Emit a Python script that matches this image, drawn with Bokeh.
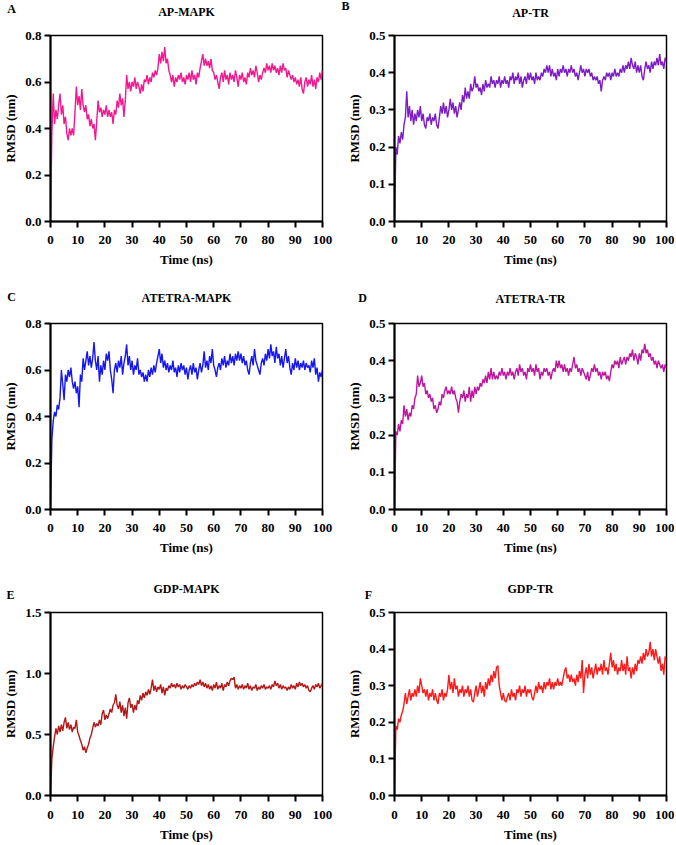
from bokeh.plotting import figure
from bokeh.layouts import column, row
from bokeh.models import Range1d, FixedTicker, NumeralTickFormatter, Label
from bokeh.embed import file_html
from bokeh.resources import INLINE

ap_mapk = [
    0.00, 0.38, 0.55, 0.42, 0.48, 0.44, 0.50, 0.55, 0.46, 0.50,
    0.42, 0.45, 0.38, 0.35, 0.40, 0.37, 0.40, 0.37, 0.47, 0.58,
    0.50, 0.54, 0.48, 0.57, 0.50, 0.47, 0.50, 0.44, 0.46, 0.41,
    0.44, 0.40, 0.42, 0.35, 0.43, 0.52, 0.47, 0.49, 0.45, 0.48,
    0.46, 0.50, 0.45, 0.48, 0.45, 0.47, 0.42, 0.48, 0.46, 0.52,
    0.49, 0.55, 0.50, 0.53, 0.45, 0.52, 0.63, 0.57, 0.60, 0.56,
    0.60, 0.58, 0.62, 0.57, 0.60, 0.58, 0.55, 0.59, 0.56, 0.61,
    0.60, 0.63, 0.59, 0.62, 0.60, 0.64, 0.62, 0.65, 0.63, 0.66,
    0.72, 0.68, 0.73, 0.69, 0.75, 0.68, 0.70, 0.65, 0.63, 0.60,
    0.63, 0.58, 0.62, 0.60, 0.63, 0.61, 0.64, 0.60, 0.62, 0.59,
    0.63, 0.61, 0.64, 0.60, 0.65, 0.61, 0.63, 0.59, 0.64, 0.62,
    0.66, 0.69, 0.72, 0.67, 0.70, 0.67, 0.69, 0.66, 0.70, 0.65,
    0.64, 0.61, 0.63, 0.60, 0.57, 0.62, 0.64, 0.60, 0.65, 0.61,
    0.63, 0.59, 0.64, 0.61, 0.63, 0.60, 0.65, 0.62, 0.58, 0.63,
    0.61, 0.64, 0.60, 0.62, 0.59, 0.64, 0.62, 0.66, 0.63, 0.65,
    0.62, 0.67, 0.64, 0.60, 0.63, 0.61, 0.64, 0.66, 0.64, 0.68,
    0.65, 0.67, 0.64, 0.68, 0.65, 0.67, 0.64, 0.66, 0.63, 0.67,
    0.64, 0.68, 0.65, 0.66, 0.62, 0.65, 0.63, 0.61, 0.63, 0.60,
    0.62, 0.59, 0.61, 0.58, 0.62, 0.57, 0.55, 0.60, 0.62, 0.58,
    0.61, 0.59, 0.63, 0.58, 0.61, 0.57, 0.62, 0.60, 0.64, 0.61,
    0.65,
]

ap_tr = [
    0.00, 0.20, 0.18, 0.23, 0.21, 0.24, 0.22, 0.26, 0.28, 0.35,
    0.28, 0.31, 0.27, 0.30, 0.26, 0.29, 0.27, 0.30, 0.28, 0.31,
    0.27, 0.29, 0.26, 0.25, 0.28, 0.27, 0.29, 0.26, 0.28, 0.27,
    0.29, 0.26, 0.25, 0.28, 0.31, 0.29, 0.32, 0.29, 0.31, 0.28,
    0.30, 0.33, 0.30, 0.32, 0.29, 0.31, 0.28, 0.30, 0.32, 0.30,
    0.34, 0.32, 0.36, 0.33, 0.35, 0.33, 0.37, 0.35, 0.36, 0.39,
    0.36, 0.37, 0.35, 0.36, 0.34, 0.37, 0.35, 0.38, 0.36, 0.37,
    0.36, 0.39, 0.37, 0.38, 0.36, 0.38, 0.37, 0.39, 0.36, 0.38,
    0.37, 0.39, 0.37, 0.38, 0.36, 0.39, 0.38, 0.40, 0.37, 0.39,
    0.38, 0.40, 0.37, 0.39, 0.36, 0.38, 0.39, 0.37, 0.40, 0.38,
    0.40, 0.38, 0.39, 0.37, 0.40, 0.38, 0.39, 0.38, 0.40, 0.39,
    0.41, 0.40, 0.42, 0.40, 0.42, 0.39, 0.41, 0.39, 0.40, 0.38,
    0.41, 0.39, 0.41, 0.40, 0.42, 0.40, 0.41, 0.39, 0.41, 0.40,
    0.42, 0.40, 0.41, 0.39, 0.40, 0.38, 0.40, 0.42, 0.40, 0.41,
    0.39, 0.41, 0.40, 0.41, 0.39, 0.40, 0.38, 0.39, 0.38, 0.39,
    0.37, 0.38, 0.35, 0.38, 0.39, 0.38, 0.40, 0.39, 0.40, 0.38,
    0.40, 0.39, 0.41, 0.39, 0.40, 0.39, 0.41, 0.40, 0.42, 0.40,
    0.42, 0.41, 0.43, 0.41, 0.44, 0.42, 0.41, 0.43, 0.40, 0.42,
    0.40, 0.42, 0.39, 0.38, 0.41, 0.43, 0.41, 0.42, 0.40, 0.43,
    0.41, 0.43, 0.42, 0.44, 0.42, 0.45, 0.42, 0.43, 0.41, 0.44,
    0.43,
]

atetra_mapk = [
    0.00, 0.30, 0.38, 0.42, 0.40, 0.45, 0.43, 0.48, 0.60, 0.54,
    0.47, 0.58, 0.55, 0.60, 0.57, 0.61, 0.55, 0.52, 0.55, 0.50,
    0.53, 0.44, 0.58, 0.55, 0.65, 0.60, 0.64, 0.68, 0.62, 0.66,
    0.61, 0.65, 0.72, 0.64, 0.60, 0.66, 0.55, 0.62, 0.58, 0.64,
    0.60, 0.67, 0.64, 0.68, 0.60, 0.56, 0.50, 0.60, 0.63, 0.59,
    0.64, 0.61, 0.66, 0.58, 0.63, 0.66, 0.71, 0.62, 0.66, 0.60,
    0.64, 0.58, 0.62, 0.60, 0.65, 0.58, 0.60, 0.57, 0.59, 0.55,
    0.58, 0.55, 0.60, 0.57, 0.61, 0.58, 0.62, 0.59, 0.63, 0.66,
    0.69, 0.63, 0.67, 0.61, 0.64, 0.60, 0.63, 0.59, 0.62, 0.60,
    0.64, 0.59, 0.61, 0.57, 0.62, 0.59, 0.63, 0.60, 0.62, 0.58,
    0.61, 0.56, 0.60, 0.62, 0.58, 0.63, 0.59, 0.61, 0.56, 0.60,
    0.63, 0.59, 0.62, 0.68, 0.61, 0.64, 0.60, 0.66, 0.63, 0.69,
    0.62, 0.60, 0.57, 0.61, 0.63, 0.60, 0.65, 0.62, 0.66, 0.61,
    0.64, 0.62, 0.67, 0.63, 0.66, 0.62, 0.67, 0.64, 0.68, 0.64,
    0.67, 0.63, 0.66, 0.62, 0.64, 0.60, 0.58, 0.63, 0.66, 0.62,
    0.69, 0.64, 0.62, 0.60, 0.58, 0.63, 0.65, 0.62, 0.67, 0.64,
    0.69, 0.65, 0.71, 0.66, 0.68, 0.63, 0.70, 0.65, 0.67, 0.62,
    0.66, 0.61, 0.65, 0.69, 0.63, 0.66, 0.61, 0.58, 0.63, 0.60,
    0.65, 0.61, 0.64, 0.60, 0.63, 0.61, 0.64, 0.60, 0.63, 0.61,
    0.62, 0.59, 0.64, 0.61, 0.65, 0.58, 0.61, 0.55, 0.59, 0.57,
    0.60,
]

atetra_tr = [
    0.00, 0.21, 0.20, 0.23, 0.21, 0.24, 0.23, 0.28, 0.25, 0.27,
    0.24, 0.26, 0.25, 0.28, 0.27, 0.30, 0.31, 0.36, 0.33, 0.34,
    0.36, 0.33, 0.34, 0.31, 0.32, 0.30, 0.31, 0.29, 0.30, 0.27,
    0.28, 0.26, 0.27, 0.29, 0.28, 0.31, 0.30, 0.32, 0.33, 0.31,
    0.32, 0.31, 0.33, 0.31, 0.32, 0.30, 0.29, 0.26, 0.29, 0.31,
    0.30, 0.32, 0.29, 0.31, 0.30, 0.33, 0.29, 0.32, 0.30, 0.33,
    0.31, 0.33, 0.32, 0.34, 0.33, 0.35, 0.34, 0.36, 0.34, 0.37,
    0.35, 0.38, 0.35, 0.37, 0.35, 0.36, 0.35, 0.37, 0.36, 0.38,
    0.36, 0.37, 0.35, 0.37, 0.36, 0.38, 0.36, 0.37, 0.35, 0.37,
    0.38, 0.36, 0.39, 0.37, 0.38, 0.36, 0.37, 0.35, 0.38, 0.37,
    0.39, 0.37, 0.38, 0.36, 0.39, 0.37, 0.38, 0.35, 0.37, 0.36,
    0.38, 0.37, 0.38, 0.36, 0.37, 0.35, 0.37, 0.38, 0.37, 0.40,
    0.38, 0.40, 0.38, 0.39, 0.37, 0.39, 0.37, 0.38, 0.36, 0.38,
    0.37, 0.39, 0.41, 0.38, 0.39, 0.37, 0.38, 0.36, 0.38, 0.37,
    0.36, 0.35, 0.37, 0.345, 0.36, 0.38, 0.37, 0.39, 0.37, 0.38,
    0.36, 0.37, 0.35, 0.37, 0.36, 0.37, 0.35, 0.36, 0.345, 0.37,
    0.39, 0.38, 0.40, 0.39, 0.40, 0.38, 0.41, 0.39, 0.40, 0.41,
    0.39, 0.41, 0.40, 0.42, 0.41, 0.43, 0.40, 0.42, 0.41, 0.39,
    0.42, 0.40, 0.43, 0.42, 0.445, 0.42, 0.43, 0.41, 0.42, 0.40,
    0.41, 0.39, 0.40, 0.38, 0.40, 0.39, 0.38, 0.39, 0.37, 0.39,
    0.38,
]

gdp_mapk = [
    0.00, 0.30, 0.40, 0.48, 0.55, 0.50, 0.57, 0.52, 0.58, 0.53,
    0.60, 0.64, 0.55, 0.60, 0.54, 0.58, 0.52, 0.56, 0.55, 0.62,
    0.52, 0.49, 0.45, 0.42, 0.37, 0.40, 0.35, 0.39, 0.42, 0.47,
    0.50, 0.55, 0.60, 0.56, 0.59, 0.57, 0.62, 0.58, 0.67, 0.70,
    0.62, 0.66, 0.63, 0.67, 0.71, 0.68, 0.74, 0.76, 0.83, 0.74,
    0.71, 0.77, 0.68, 0.74, 0.65, 0.72, 0.63, 0.76, 0.80, 0.72,
    0.75, 0.68, 0.74, 0.70, 0.78, 0.75, 0.82, 0.78, 0.84, 0.80,
    0.85, 0.82, 0.87, 0.83, 0.88, 0.95, 0.86, 0.90, 0.85, 0.89,
    0.87, 0.91, 0.84, 0.89, 0.82, 0.88, 0.86, 0.90, 0.88, 0.92,
    0.89, 0.91, 0.88, 0.92, 0.89, 0.91, 0.87, 0.90, 0.88, 0.91,
    0.89, 0.87, 0.90, 0.88, 0.91, 0.89, 0.92, 0.90, 0.93, 0.91,
    0.95, 0.90, 0.93, 0.89, 0.92, 0.88, 0.91, 0.87, 0.90, 0.86,
    0.91, 0.88, 0.93, 0.87, 0.90, 0.88, 0.92, 0.86, 0.91, 0.89,
    0.93, 0.90, 0.94, 0.96, 0.95, 0.97, 0.88, 0.91, 0.87, 0.90,
    0.88, 0.91, 0.87, 0.90, 0.88, 0.92, 0.87, 0.90, 0.86, 0.89,
    0.88, 0.91, 0.86, 0.89, 0.87, 0.90, 0.88, 0.91, 0.87, 0.89,
    0.88, 0.90, 0.87, 0.91, 0.89, 0.94, 0.90, 0.92, 0.88, 0.91,
    0.87, 0.90, 0.88, 0.89, 0.86, 0.89, 0.87, 0.91, 0.88, 0.90,
    0.87, 0.92, 0.89, 0.93, 0.90, 0.92, 0.89, 0.91, 0.88, 0.90,
    0.86, 0.85, 0.88, 0.90, 0.87, 0.91, 0.89, 0.92, 0.88, 0.90,
    0.92,
]

gdp_tr = [
    0.00, 0.19, 0.18, 0.21, 0.20, 0.22, 0.23, 0.25, 0.28, 0.25,
    0.27, 0.29, 0.26, 0.28, 0.27, 0.29, 0.27, 0.30, 0.28, 0.32,
    0.30, 0.28, 0.29, 0.27, 0.29, 0.26, 0.28, 0.27, 0.29, 0.26,
    0.28, 0.26, 0.25, 0.28, 0.27, 0.29, 0.26, 0.28, 0.27, 0.29,
    0.33, 0.29, 0.31, 0.28, 0.32, 0.29, 0.30, 0.27, 0.29, 0.28,
    0.30, 0.27, 0.29, 0.28, 0.30, 0.27, 0.29, 0.26, 0.255, 0.28,
    0.30, 0.27, 0.29, 0.31, 0.28, 0.30, 0.27, 0.31, 0.29, 0.32,
    0.30, 0.33, 0.31, 0.34, 0.32, 0.35, 0.355, 0.30, 0.28, 0.26,
    0.28, 0.26, 0.255, 0.27, 0.28, 0.26, 0.29, 0.27, 0.28, 0.26,
    0.29, 0.28, 0.30, 0.27, 0.29, 0.28, 0.30, 0.27, 0.29, 0.28,
    0.29, 0.27, 0.26, 0.28, 0.30, 0.28, 0.31, 0.29, 0.30, 0.28,
    0.31, 0.29, 0.31, 0.30, 0.32, 0.29, 0.31, 0.29, 0.31, 0.30,
    0.32, 0.30, 0.31, 0.30, 0.32, 0.34, 0.35, 0.32, 0.33, 0.31,
    0.33, 0.31, 0.32, 0.30, 0.33, 0.31, 0.34, 0.32, 0.37, 0.28,
    0.33, 0.35, 0.32, 0.36, 0.33, 0.35, 0.32, 0.34, 0.36, 0.33,
    0.35, 0.34, 0.36, 0.33, 0.37, 0.34, 0.35, 0.33, 0.36, 0.39,
    0.35, 0.37, 0.34, 0.36, 0.33, 0.35, 0.34, 0.37, 0.34, 0.36,
    0.33, 0.38, 0.34, 0.35, 0.32, 0.35, 0.33, 0.36, 0.34, 0.37,
    0.36, 0.38, 0.36, 0.39, 0.37, 0.40, 0.38, 0.39, 0.42, 0.38,
    0.40, 0.37, 0.40, 0.38, 0.36, 0.38, 0.34, 0.36, 0.33, 0.38,
    0.37,
]

time_ns = [0.5 * i for i in range(len(ap_mapk))]

x_ticks = [0, 10, 20, 30, 40, 50, 60, 70, 80, 90, 100]
y_ticks_08 = [0.0, 0.2, 0.4, 0.6, 0.8]
y_ticks_05 = [0.0, 0.1, 0.2, 0.3, 0.4, 0.5]
y_ticks_15 = [0.0, 0.5, 1.0, 1.5]

FONT = "Liberation Serif"
FW = 272
SLOT = 13  # estimated height of the first (title) slot in the top panel


def head_label(text, x, y):
    return Label(x=x, y=y, x_units="screen", y_units="screen", text=text,
                 text_align="center", text_baseline="middle",
                 text_font=FONT, text_font_style="bold", text_font_size="12px",
                 text_color="black")


def panel(letter, title, yvals, color, ymax, yticks, xlabel,
          fh, bl, br, bt, bb, title_dy, letter_dx, letter_dy,
          xt_standoff=8, xl_standoff=5):
    p = figure(frame_width=FW, frame_height=fh,
               min_border_left=bl, min_border_right=br,
               min_border_top=bt, min_border_bottom=bb,
               x_range=Range1d(0, 100), y_range=Range1d(0, ymax),
               output_backend="svg", toolbar_location=None,
               title_location=None)
    p.line(time_ns, yvals, line_color=color, line_width=1.4)
    p.grid.visible = False
    p.outline_line_color = "black"
    p.outline_line_width = 1.5
    p.outline_line_alpha = 1.0
    p.xaxis.ticker = FixedTicker(ticks=x_ticks)
    p.yaxis.ticker = FixedTicker(ticks=yticks)
    p.yaxis.formatter = NumeralTickFormatter(format="0.0")
    for ax in (p.xaxis[0], p.yaxis[0]):
        ax.axis_line_width = 2
        ax.axis_line_color = "black"
        ax.major_tick_line_width = 2
        ax.major_tick_line_color = "black"
        ax.major_tick_out = 6
        ax.major_tick_in = 0
        ax.minor_tick_out = 0
        ax.minor_tick_in = 0
        ax.major_label_text_font = FONT
        ax.major_label_text_font_style = "bold"
        ax.major_label_text_font_size = "13px"
        ax.major_label_text_color = "black"
        ax.axis_label_text_font = FONT
        ax.axis_label_text_font_style = "bold"
        ax.axis_label_text_font_size = "13px"
        ax.axis_label_text_color = "black"
    p.xaxis.axis_label = xlabel
    p.xaxis.major_label_standoff = xt_standoff
    p.xaxis.axis_label_standoff = xl_standoff
    p.yaxis.axis_label = "RMSD (nm)"
    p.yaxis.major_label_standoff = 3
    p.yaxis.axis_label_standoff = 4

    # panel title (slot next to the frame) and panel letter (slot above it)
    p.add_layout(head_label(title, FW / 2, title_dy), "above")
    p.add_layout(head_label(letter, letter_dx, letter_dy - SLOT), "above")
    return p


pA = panel("A", "AP-MAPK", ap_mapk, "#F2188E", 0.8, y_ticks_08, "Time (ns)",
           186, 50, 14, 35, 69, 24, -39, 26)
pB = panel("B", "AP-TR", ap_tr, "#7D1CC4", 0.5, y_ticks_05, "Time (ns)",
           186, 58, 8, 35, 69, 23, -49, 29)
pC = panel("C", "ATETRA-MAPK", atetra_mapk, "#1616F2", 0.8, y_ticks_08, "Time (ns)",
           186, 50, 14, 33, 69, 26, -39, 25.5)
pD = panel("D", "ATETRA-TR", atetra_tr, "#BE179F", 0.5, y_ticks_05, "Time (ns)",
           186, 58, 8, 33, 69, 25, -32, 24.5)
pE = panel("E", "GDP-MAPK", gdp_mapk, "#B31717", 1.5, y_ticks_15, "Time (ps)",
           183, 50, 14, 34, 30, 24, -40, 17, xt_standoff=9, xl_standoff=5)
pF = panel("F", "GDP-TR", gdp_tr, "#FF1A1A", 0.5, y_ticks_05, "Time (ns)",
           183, 58, 8, 34, 30, 24, -26, 17, xt_standoff=9, xl_standoff=5)

layout = column(row(pA, pB), row(pC, pD), row(pE, pF))

with open("out.html", "w") as f:
    f.write(file_html(layout, INLINE))
